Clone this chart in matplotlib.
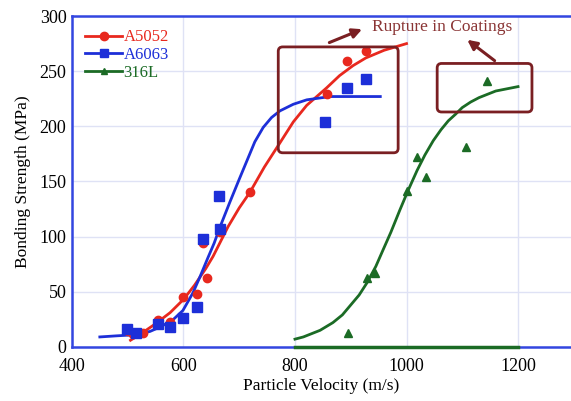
import matplotlib.pyplot as plt
from matplotlib.patches import FancyBboxPatch

# measured points
a5052_x = [500, 510, 527, 554, 576, 599, 624, 642, 635, 665, 719, 857, 893, 927]
a5052_y = [14, 12, 13, 24, 23, 45, 48, 62, 94, 104, 140, 229, 259, 268]
a6063_x = [499, 515, 554, 576, 599, 624, 635, 664, 665, 854, 893, 927]
a6063_y = [16, 13, 21, 18, 26, 36, 98, 137, 107, 204, 235, 243]
s316_x = [895, 929, 943, 1001, 1019, 1035, 1107, 1144]
s316_y = [13, 62, 67, 141, 172, 154, 181, 241]

# fitted curves
a5052_fx = [505, 527, 550, 576, 600, 620, 640, 653, 665, 680, 700, 719, 745, 773,
            797, 821, 857, 880, 904, 927, 960, 1000]
a5052_fy = [6, 13, 21, 31, 43, 56, 71, 82, 94, 109, 126, 140, 163, 185,
            204, 219, 235, 246, 255, 262, 269, 275]
a6063_fx = [450, 480, 515, 540, 558, 580, 599, 617, 630, 644, 655, 665, 683, 700, 714,
            728, 743, 758, 773, 797, 821, 863, 953]
a6063_fy = [9, 10, 11, 14, 18, 24, 33, 49, 64, 81, 94, 108, 131, 152, 169,
            186, 199, 208, 214, 220, 224, 227, 227]
s316_fx = [800, 815, 830, 845, 868, 885, 900, 915, 929, 945, 958, 972, 988, 1003,
           1019, 1033, 1048, 1062, 1075, 1088, 1100, 1115, 1130, 1145, 1160, 1180, 1200]
s316_fy = [7, 9, 12, 15, 22, 29, 38, 47, 58, 73, 88, 104, 124, 142,
           160, 174, 187, 197, 205, 211, 217, 222, 226, 229, 232, 234, 236]

red = '#e8281e'
blue = '#1d2fd8'
green = '#1b6b25'
dark = '#7a1f22'

plt.rcParams['font.family'] = ['Liberation Serif', 'DejaVu Serif']

fig = plt.figure(figsize=(5.71, 4.01), dpi=100)
ax = fig.add_axes([0.126, 0.135, 0.874, 0.825])

ax.plot(a5052_fx, a5052_fy, color=red, lw=2, zorder=3, solid_joinstyle='round')
ax.plot(a6063_fx, a6063_fy, color=blue, lw=2, zorder=3, solid_joinstyle='round')
ax.plot(s316_fx, s316_fy, color=green, lw=2, zorder=3, solid_joinstyle='round')
ax.plot(a5052_x, a5052_y, 'o', color=red, ms=6, zorder=4)
ax.plot(a6063_x, a6063_y, 's', color=blue, ms=6.5, zorder=4)
ax.plot(s316_x, s316_y, '^', color=green, ms=5.5, zorder=4)
ax.plot([800, 1200], [0, 0], color=green, lw=2.5, zorder=5, clip_on=False)

h1, = ax.plot([], [], '-o', color=red, ms=6, lw=2)
h2, = ax.plot([], [], '-s', color=blue, ms=6, lw=2)
h3, = ax.plot([], [], '-^', color=green, ms=4, lw=2)
leg = ax.legend([h1, h2, h3], ['A5052', 'A6063', '316L'], loc='upper left',
                frameon=False, fontsize=12, handlelength=2.2, handletextpad=0.1,
                labelspacing=0.1, borderaxespad=0.4)
for t, c in zip(leg.get_texts(), [red, blue, green]):
    t.set_color(c)

# rupture boxes
for (x0, y0, x1, y1) in [(770, 176, 985, 272), (1055, 213, 1225, 257)]:
    ax.add_patch(FancyBboxPatch((x0, y0), x1 - x0, y1 - y0,
                                boxstyle='round,pad=0,rounding_size=8',
                                fill=False, ec=dark, lw=2, zorder=6,
                                mutation_aspect=0.5))
ax.annotate('', xy=(925, 289), xytext=(857, 275),
            arrowprops=dict(arrowstyle='-|>', color=dark, lw=2.2, mutation_scale=14))
ax.annotate('', xy=(1105, 280), xytext=(1162, 258),
            arrowprops=dict(arrowstyle='-|>', color=dark, lw=2.2, mutation_scale=14))
ax.text(1064, 290, 'Rupture in Coatings', color='#8a3535', fontsize=12.5,
        ha='center', va='center')

ax.set_xlim(400, 1295)
ax.set_ylim(0, 300)
ax.set_xticks([400, 600, 800, 1000, 1200])
ax.set_yticks([0, 50, 100, 150, 200, 250, 300])
ax.grid(True, color='#dfe2f5', lw=1)
ax.set_axisbelow(True)
ax.tick_params(length=0, labelsize=13)
ax.tick_params(axis='x', pad=8)
ax.tick_params(axis='y', pad=4)
for s in ['left', 'top', 'bottom']:
    ax.spines[s].set_color('#3346e0')
    ax.spines[s].set_linewidth(1.8)
ax.spines['right'].set_visible(False)
ax.set_xlabel('Particle Velocity (m/s)', fontsize=12.5, labelpad=2)
ax.set_ylabel('Bonding Strength (MPa)', fontsize=12.5, labelpad=6)

fig.savefig('out.png', dpi=100)
